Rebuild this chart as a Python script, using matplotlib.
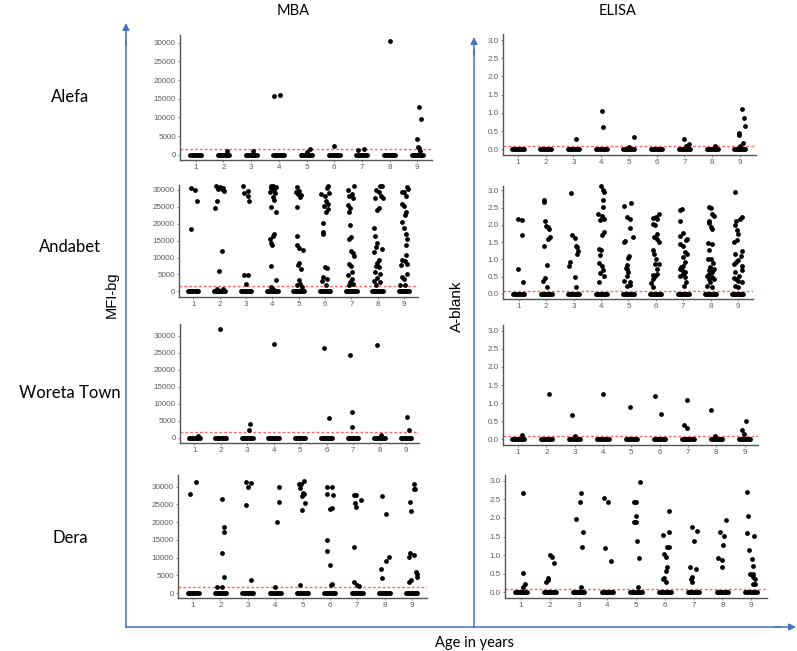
import matplotlib
matplotlib.use("Agg")
import matplotlib.pyplot as plt

W, H = 797, 651

# ---- data: (age, jitter offset, value) ----
ages = [1, 2, 3, 4, 5, 6, 7, 8, 9]
sites = ["Alefa", "Andabet", "Woreta Town", "Dera"]
mba_cutoff = 1600
elisa_cutoff = 0.1

# samples at zero, spread by jitter
zero_dx = [-0.2, -0.15, -0.1, -0.05, 0.0, 0.05, 0.1, 0.15, 0.2]

mba_alefa = [
    (2, 0.12, 1070), (3, 0.08, 1070), (4, -0.16, 15700), (4, 0.05, 16050),
    (5, 0.13, 1500), (5, 0.01, 600), (6, 0.0, 2300), (7, -0.16, 1250), (7, 0.08, 1400),
    (8, 0.0, 30500), (9, 0.06, 12700), (9, 0.12, 9650), (9, -0.01, 4100),
    (9, 0.03, 2150), (9, 0.06, 1900), (9, 0.1, 1050),
]
mba_andabet = [
    (1, -0.1, 30600), (1, 0.06, 30100), (1, 0.13, 26600), (1, -0.1, 18500),
    (2, -0.14, 31100), (2, 0.01, 30800), (2, 0.08, 30300), (2, 0.14, 30500), (2, -0.05, 30300),
    (2, 0.16, 29800), (2, -0.11, 26600), (2, -0.18, 24600), (2, 0.1, 11900), (2, -0.03, 5900),
    (2, -0.09, 800), (2, 0.14, 600),
    (3, -0.13, 31300), (3, 0.06, 29800), (3, -0.08, 29100), (3, 0.09, 28300), (3, 0.11, 26800),
    (3, -0.08, 4700), (3, 0.09, 4700), (3, -0.01, 2100),
    (4, -0.06, 31300), (4, 0.04, 31100), (4, 0.14, 30800), (4, -0.03, 30500), (4, 0.08, 30100),
    (4, -0.09, 29500), (4, 0.1, 29100), (4, 0.01, 27800), (4, 0.06, 26900), (4, -0.06, 25100),
    (4, 0.13, 23600), (4, 0.06, 17000), (4, 0.01, 16500), (4, -0.09, 15500), (4, -0.05, 14300),
    (4, -0.01, 13600), (4, -0.06, 7400), (4, 0.14, 3400), (4, -0.03, 1300), (4, 0.04, 800),
    (5, -0.05, 30800), (5, 0.03, 29800), (5, -0.1, 29300), (5, -0.01, 28800), (5, 0.1, 28500),
    (5, 0.05, 27800), (5, -0.08, 24900), (5, -0.08, 16500), (5, -0.05, 13800), (5, 0.03, 12900),
    (5, 0.15, 12100), (5, 0.03, 8500), (5, -0.04, 7700), (5, 0.08, 6500), (5, 0.0, 3500),
    (5, 0.05, 2300), (5, -0.08, 1800), (5, 0.11, 1300),
    (6, 0.13, 31100), (6, 0.06, 30500), (6, -0.15, 28800), (6, 0.0, 28100), (6, 0.16, 29100),
    (6, 0.04, 26600), (6, 0.13, 25900), (6, -0.04, 25400), (6, 0.1, 24400), (6, 0.04, 23600),
    (6, -0.09, 20200), (6, -0.09, 17500), (6, -0.06, 17000), (6, 0.0, 7200), (6, 0.06, 7000),
    (6, -0.06, 4200), (6, 0.06, 3700), (6, -0.13, 3000), (6, 0.04, 1800),
    (7, 0.1, 31300), (7, -0.11, 30100), (7, 0.04, 28800), (7, -0.09, 28100), (7, 0.05, 27600),
    (7, -0.14, 25600), (7, -0.05, 24600), (7, -0.1, 23600), (7, -0.05, 19500), (7, -0.03, 16000),
    (7, -0.09, 15500), (7, -0.03, 11800), (7, 0.05, 11300), (7, 0.1, 10600), (7, -0.08, 8200),
    (7, -0.03, 7500), (7, 0.04, 5700), (7, -0.11, 4700), (7, 0.01, 3700), (7, -0.05, 2800),
    (7, 0.08, 2300), (7, -0.08, 1800),
    (8, 0.09, 31100), (8, 0.15, 31300), (8, -0.06, 30100), (8, 0.06, 29500), (8, -0.1, 27600),
    (8, 0.11, 28100), (8, 0.19, 27600), (8, -0.04, 24200), (8, 0.06, 24600), (8, -0.13, 18700),
    (8, -0.1, 16500), (8, -0.01, 14300), (8, -0.06, 13100), (8, -0.14, 11600), (8, 0.15, 12400),
    (8, 0.05, 9200), (8, -0.01, 8500), (8, -0.06, 7500), (8, 0.06, 7200), (8, -0.1, 5700),
    (8, 0.09, 5200), (8, -0.01, 3900), (8, -0.14, 3200), (8, 0.09, 2800), (8, -0.06, 2000),
    (9, 0.1, 30800), (9, 0.16, 30300), (9, -0.09, 29500), (9, 0.0, 29300), (9, 0.08, 28100),
    (9, -0.09, 25900), (9, 0.0, 25400), (9, 0.08, 23400), (9, 0.04, 22600), (9, -0.09, 20500),
    (9, 0.0, 18700), (9, 0.08, 17000), (9, 0.1, 15500), (9, 0.08, 13800), (9, 0.08, 10800),
    (9, -0.09, 9200), (9, 0.04, 8900), (9, 0.1, 8200), (9, -0.13, 7900), (9, 0.13, 5200),
    (9, -0.09, 4200), (9, 0.0, 3700), (9, -0.15, 2000), (9, 0.04, 1800),
]
mba_woreta = [
    (1, 0.13, 500), (2, -0.03, 31900), (3, 0.1, 4100), (3, 0.08, 2150), (4, 0.01, 27500),
    (6, -0.09, 26400), (6, 0.1, 5900), (7, -0.12, 24400), (7, -0.06, 7500), (7, -0.06, 3100),
    (8, -0.09, 27400), (8, 0.04, 800), (9, 0.02, 6050), (9, 0.12, 2250),
]
mba_dera = [
    (1, -0.1, 27900), (1, 0.09, 31200),
    (2, 0.04, 26400), (2, 0.12, 18500), (2, 0.12, 17100), (2, 0.07, 11250), (2, 0.13, 4400),
    (2, -0.12, 1700), (2, 0.06, 1600),
    (3, -0.05, 31200), (3, 0.13, 31100), (3, 0.01, 29800), (3, -0.05, 24700), (3, 0.11, 3750),
    (4, 0.07, 20000), (4, 0.15, 29800), (4, 0.13, 25800), (4, -0.01, 1600),
    (5, -0.13, 30700), (5, -0.04, 30700), (5, 0.05, 31600), (5, -0.1, 29500), (5, 0.02, 28100),
    (5, -0.01, 27500), (5, 0.05, 27800), (5, 0.09, 25300), (5, -0.01, 23400), (5, -0.1, 2150),
    (6, -0.12, 27900), (6, -0.09, 30000), (6, 0.09, 30000), (6, 0.1, 27700), (6, 0.02, 23700),
    (6, 0.06, 23900), (6, -0.09, 15000), (6, -0.12, 11900), (6, 0.0, 8000), (6, 0.09, 2500),
    (6, 0.05, 2250),
    (7, -0.11, 27700), (7, -0.04, 27700), (7, -0.07, 25300), (7, -0.04, 24200), (7, 0.15, 26250),
    (7, -0.11, 12950), (7, -0.11, 3100), (7, 0.01, 2350), (7, 0.05, 2050),
    (8, -0.1, 27400), (8, 0.06, 22300), (8, 0.15, 10100), (8, 0.06, 9100), (8, -0.12, 6750),
    (8, -0.1, 4200),
    (9, 0.09, 30750), (9, 0.06, 29300), (9, 0.12, 29300), (9, -0.06, 25600), (9, -0.04, 23200),
    (9, -0.06, 11250), (9, -0.09, 10100), (9, 0.06, 10800), (9, 0.16, 5900), (9, 0.18, 5400),
    (9, 0.18, 4500), (9, -0.04, 3550), (9, -0.09, 3000),
]

elisa_alefa = [
    (3, 0.08, 0.28), (4, 0.04, 1.06), (4, 0.08, 0.60), (5, 0.18, 0.35), (5, 0.01, 0.07),
    (7, -0.02, 0.28), (7, 0.07, 0.10), (7, 0.17, 0.14), (8, 0.12, 0.09),
    (9, 0.08, 1.10), (9, 0.14, 0.87), (9, 0.17, 0.65), (9, -0.04, 0.44), (9, -0.02, 0.39),
    (9, 0.12, 0.18), (9, 0.0, 0.10),
]
elisa_andabet = [
    (1, -0.02, 2.18), (1, 0.12, 2.13), (1, 0.12, 1.72), (1, -0.02, 0.73), (1, 0.16, 0.34),
    (2, -0.09, 2.73), (2, -0.09, 2.66), (2, -0.05, 2.10), (2, -0.02, 1.96), (2, 0.05, 1.94),
    (2, 0.11, 1.87), (2, 0.07, 1.60), (2, 0.13, 1.65), (2, -0.09, 1.38), (2, 0.04, 0.85),
    (2, -0.11, 0.39), (2, -0.05, 0.45), (2, 0.01, 0.19),
    (3, -0.1, 2.93), (3, -0.06, 1.72), (3, 0.05, 1.63), (3, 0.09, 1.38), (3, 0.13, 1.36),
    (3, 0.15, 1.23), (3, 0.11, 1.16), (3, -0.13, 0.92), (3, -0.16, 0.80), (3, 0.06, 0.50),
    (3, 0.09, 0.21),
    (4, -0.01, 3.13), (4, 0.06, 3.0), (4, 0.11, 2.95), (4, 0.09, 2.71), (4, 0.09, 2.52),
    (4, -0.1, 2.32), (4, 0.04, 2.27), (4, 0.11, 2.18), (4, -0.04, 2.15), (4, 0.12, 1.79),
    (4, 0.02, 1.72), (4, -0.06, 1.29), (4, 0.0, 1.26), (4, -0.05, 1.13), (4, -0.06, 0.90),
    (4, 0.02, 0.82), (4, -0.04, 0.61), (4, 0.06, 0.68), (4, -0.07, 0.34), (4, 0.11, 0.51),
    (5, -0.15, 2.54), (5, 0.1, 2.64), (5, -0.04, 2.23), (5, 0.04, 2.18), (5, 0.06, 1.91),
    (5, 0.15, 1.65), (5, -0.12, 1.52), (5, -0.15, 1.50), (5, 0.02, 1.11), (5, -0.02, 1.04),
    (5, -0.06, 0.84), (5, -0.1, 0.76), (5, -0.04, 0.73), (5, 0.0, 0.63), (5, -0.06, 0.51),
    (5, -0.15, 0.39), (5, 0.04, 0.34), (5, -0.04, 0.24), (5, 0.06, 0.27),
    (6, -0.12, 2.20), (6, 0.0, 2.23), (6, 0.1, 2.32), (6, 0.06, 2.18), (6, -0.09, 2.03),
    (6, -0.02, 2.0), (6, 0.04, 1.74), (6, -0.05, 1.65), (6, 0.06, 1.60), (6, 0.1, 1.50),
    (6, -0.12, 1.26), (6, -0.06, 1.16), (6, 0.01, 1.0), (6, -0.02, 0.87), (6, 0.1, 0.87),
    (6, 0.04, 0.73), (6, -0.09, 0.55), (6, 0.06, 0.58), (6, -0.02, 0.51), (6, -0.12, 0.44),
    (6, -0.17, 0.32), (6, -0.09, 0.19),
    (7, -0.13, 2.42), (7, -0.05, 2.47), (7, -0.11, 2.10), (7, -0.13, 1.69), (7, -0.01, 1.76),
    (7, 0.13, 1.60), (7, 0.1, 1.55), (7, -0.11, 1.45), (7, -0.01, 1.40), (7, 0.05, 1.21),
    (7, 0.13, 1.16), (7, -0.02, 1.07), (7, 0.07, 0.94), (7, 0.01, 0.82), (7, -0.09, 0.77),
    (7, -0.13, 0.73), (7, -0.05, 0.68), (7, 0.07, 0.63), (7, -0.01, 0.58), (7, -0.11, 0.53),
    (7, 0.07, 0.48), (7, 0.11, 0.34), (7, 0.04, 0.24),
    (8, -0.07, 2.52), (8, 0.01, 2.50), (8, 0.07, 2.32), (8, 0.11, 2.27), (8, -0.04, 2.10),
    (8, -0.07, 2.06), (8, 0.01, 1.94), (8, 0.05, 1.89), (8, -0.11, 1.48), (8, 0.05, 1.45),
    (8, -0.04, 1.26), (8, -0.1, 1.02), (8, 0.02, 1.0), (8, 0.09, 0.90), (8, -0.01, 0.77),
    (8, 0.13, 0.73), (8, -0.07, 0.68), (8, 0.07, 0.63), (8, -0.04, 0.58), (8, -0.13, 0.53),
    (8, 0.05, 0.48), (8, -0.07, 0.44), (8, 0.13, 0.44), (8, -0.01, 0.36), (8, -0.13, 0.24),
    (8, 0.05, 0.19),
    (9, -0.12, 2.95), (9, 0.15, 2.23), (9, 0.09, 2.18), (9, -0.06, 2.10), (9, -0.1, 2.0),
    (9, -0.04, 1.84), (9, 0.0, 1.74), (9, -0.04, 1.55), (9, -0.13, 1.50), (9, -0.1, 1.16),
    (9, 0.15, 1.23), (9, 0.11, 1.09), (9, 0.02, 0.97), (9, -0.06, 0.92), (9, -0.13, 0.87),
    (9, 0.15, 0.82), (9, 0.15, 0.68), (9, -0.1, 0.65), (9, 0.05, 0.53), (9, -0.16, 0.46),
    (9, -0.06, 0.44), (9, 0.02, 0.39), (9, 0.15, 0.34), (9, -0.1, 0.24), (9, 0.02, 0.19),
]
elisa_woreta = [
    (1, 0.14, 0.12), (2, 0.08, 1.24), (3, -0.1, 0.67), (3, 0.01, 0.09), (4, -0.01, 1.25),
    (5, -0.05, 0.89), (6, -0.16, 1.21), (6, 0.04, 0.69), (7, -0.04, 1.08), (7, -0.15, 0.41),
    (7, -0.04, 0.32), (8, -0.18, 0.81), (8, -0.06, 0.09), (9, 0.04, 0.52), (9, -0.08, 0.25),
    (9, -0.04, 0.14),
]
elisa_dera = [
    (1, 0.05, 2.66), (1, 0.06, 0.52), (1, 0.12, 0.21), (1, 0.08, 0.14),
    (2, 0.01, 1.01), (2, 0.09, 0.94), (2, 0.16, 0.80), (2, -0.05, 0.38), (2, -0.08, 0.34),
    (2, -0.13, 0.27),
    (3, -0.09, 1.97), (3, 0.07, 2.68), (3, 0.05, 2.44), (3, 0.14, 1.62), (3, 0.1, 1.21),
    (3, 0.07, 0.13),
    (4, -0.12, 2.53), (4, 0.03, 2.44), (4, -0.08, 1.19), (4, 0.12, 0.83),
    (5, 0.14, 2.96), (5, -0.07, 2.44), (5, 0.0, 2.42), (5, 0.0, 2.06), (5, -0.09, 1.88),
    (5, 0.0, 1.88), (5, 0.02, 1.39), (5, 0.1, 0.92), (5, 0.05, 0.14),
    (6, -0.05, 1.54), (6, 0.13, 2.19), (6, 0.13, 1.63), (6, -0.02, 1.04), (6, 0.03, 0.95),
    (6, 0.07, 1.21), (6, 0.13, 1.21), (6, 0.07, 0.68), (6, 0.03, 0.56), (6, -0.02, 0.38),
    (6, -0.07, 0.37), (6, 0.03, 0.27),
    (7, -0.07, 1.75), (7, 0.1, 1.65), (7, 0.01, 1.38), (7, -0.13, 0.68), (7, 0.08, 0.63),
    (7, -0.05, 0.41), (7, -0.1, 0.36), (7, -0.07, 0.27),
    (8, -0.08, 1.61), (8, 0.06, 1.52), (8, 0.03, 1.28), (8, -0.14, 0.92), (8, 0.0, 0.88),
    (8, -0.02, 0.68), (8, 0.12, 1.95),
    (9, -0.15, 2.69), (9, -0.12, 2.06), (9, -0.13, 1.59), (9, 0.1, 1.52), (9, -0.09, 1.14),
    (9, 0.02, 0.90), (9, 0.05, 0.70), (9, -0.03, 0.49), (9, 0.08, 0.50), (9, 0.06, 0.41),
    (9, 0.12, 0.36), (9, 0.14, 0.23), (9, 0.08, 0.23),
]

mba_data = [mba_alefa, mba_andabet, mba_woreta, mba_dera]
elisa_data = [elisa_alefa, elisa_andabet, elisa_woreta, elisa_dera]

# panel boxes in image pixels: left, top, right, bottom ; and axis limits
mba_boxes = [(180, 35, 432, 160), (179, 185, 418, 297), (180, 324, 419, 443), (178, 475, 427, 598)]
mba_xlims = [(0.43, 9.53), (0.46, 9.53), (0.46, 9.49), (0.45, 9.55)]
mba_ylims = [(-1420, 32060), (-1680, 31480), (-1550, 33430), (-1400, 33290)]
elisa_boxes = [(503, 34, 756, 155), (503, 186, 753, 299), (503, 325, 758, 445), (505, 475, 767, 598)]
elisa_xlims = [(0.46, 9.58), (0.42, 9.55), (0.47, 9.47), (0.44, 9.55)]
elisa_ylims = [(-0.156, 3.165), (-0.145, 3.125), (-0.154, 3.154), (-0.153, 3.153)]

fig = plt.figure(figsize=(W / 100, H / 100), dpi=100)


def fx(px):
    return px / W


def fy(py):
    return 1 - py / H


def draw_panel(box, xlim, ylim, pts, cutoff, yticks, ylabels):
    l, t, r, b = box
    ax = fig.add_axes([fx(l), fy(b), fx(r) - fx(l), fy(t) - fy(b)])
    # zero samples
    zx = [a + d for a in ages for d in zero_dx]
    ax.scatter(zx, [0] * len(zx), s=12, color="black", linewidths=0, zorder=3, clip_on=False)
    xs = [a + d for a, d, v in pts]
    ys = [v for a, d, v in pts]
    ax.scatter(xs, ys, s=12, color="black", linewidths=0, zorder=3, clip_on=False)
    ax.axhline(cutoff, color="#ff6464", lw=1.0, ls=(0, (2, 1.5)), zorder=2)
    ax.set_xlim(*xlim)
    ax.set_ylim(*ylim)
    ax.set_xticks(ages)
    ax.set_xticklabels([str(a) for a in ages])
    ax.set_yticks(yticks)
    ax.set_yticklabels(ylabels)
    for s in ["top", "right"]:
        ax.spines[s].set_visible(False)
    for s in ["left", "bottom"]:
        ax.spines[s].set_color("#555555")
        ax.spines[s].set_linewidth(1.0)
    ax.tick_params(length=1.5, width=0.5, color="#555555", labelsize=5.8,
                   labelcolor="#5c5c5c", pad=1.5)
    for lab in ax.get_xticklabels() + ax.get_yticklabels():
        lab.set_family("Liberation Sans")
    return ax


mba_ticks = [0, 5000, 10000, 15000, 20000, 25000, 30000]
elisa_ticks = [0.0, 0.5, 1.0, 1.5, 2.0, 2.5, 3.0]
for i in range(4):
    draw_panel(mba_boxes[i], mba_xlims[i], mba_ylims[i], mba_data[i], mba_cutoff,
               mba_ticks, [str(v) for v in mba_ticks])
    draw_panel(elisa_boxes[i], elisa_xlims[i], elisa_ylims[i], elisa_data[i], elisa_cutoff,
               elisa_ticks, ["%.1f" % v for v in elisa_ticks])

# blue framing arrows
blue = "#4472c4"
arrow = dict(arrowstyle="-|>", color=blue, lw=1.1, mutation_scale=10, shrinkA=0, shrinkB=0)
fig.add_artist(matplotlib.lines.Line2D([fx(126), fx(474)], [fy(627), fy(627)], color=blue, lw=1.1))
fig.add_artist(matplotlib.lines.Line2D([fx(126), fx(126)], [fy(627), fy(40)], color=blue, lw=1.1))
fig.add_artist(matplotlib.lines.Line2D([fx(474), fx(474)], [fy(627), fy(50)], color=blue, lw=1.1))
fig.add_artist(matplotlib.lines.Line2D([fx(474), fx(780)], [fy(627), fy(627)], color=blue, lw=1.1))
ax0 = fig.add_axes([0, 0, 1, 1], facecolor="none")
ax0.set_xlim(0, W)
ax0.set_ylim(H, 0)
ax0.axis("off")
ax0.annotate("", xy=(126, 23), xytext=(126, 45), arrowprops=arrow)
ax0.annotate("", xy=(474, 37), xytext=(474, 55), arrowprops=arrow)
ax0.annotate("", xy=(796, 627), xytext=(775, 627), arrowprops=arrow)

# titles and labels
ax0.text(293, 11, "MBA", ha="center", va="center", fontsize=10.5, family="Lato")
ax0.text(618, 11, "ELISA", ha="center", va="center", fontsize=10.5, family="Lato")
row_y = [97, 247, 393, 538]
for name, y in zip(sites, row_y):
    ax0.text(70, y, name, ha="center", va="center", fontsize=12, family="Lato")
ax0.text(475, 643, "Age in years", ha="center", va="center", fontsize=10.5, family="Lato")
ax0.text(112, 295, "MFI-bg", ha="center", va="center", rotation=90, fontsize=10.5,
         family="Liberation Sans")
ax0.text(457, 306, "A-blank", ha="center", va="center", rotation=90, fontsize=11,
         family="Liberation Sans")

fig.savefig("out.png", dpi=100)
